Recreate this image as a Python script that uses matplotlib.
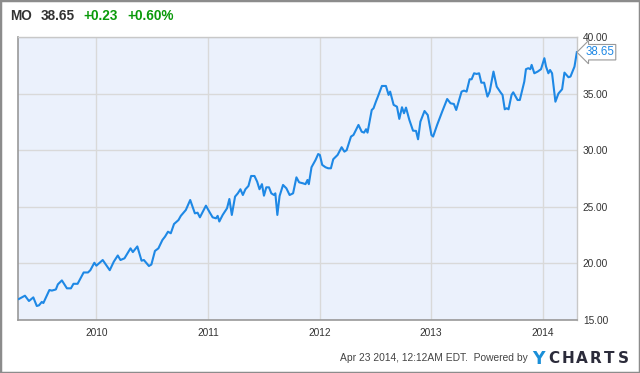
"""
MO weekly close, Apr 2009 - Apr 2014 (YCharts style)
"""

import matplotlib
matplotlib.use("Agg")
from matplotlib import pyplot as plt
from matplotlib.patches import Rectangle

# decimal year of each point and the closing price
years = [
    2009.306, 2009.360, 2009.396, 2009.435, 2009.466, 2009.486, 2009.511, 2009.525,
    2009.579, 2009.601, 2009.637, 2009.655, 2009.691, 2009.736, 2009.772, 2009.795,
    2009.832, 2009.886, 2009.925, 2009.946, 2009.982, 2010.000, 2010.057, 2010.120,
    2010.156, 2010.192, 2010.216, 2010.252, 2010.306, 2010.327, 2010.367, 2010.405,
    2010.426, 2010.471, 2010.493, 2010.525, 2010.556, 2010.592, 2010.615, 2010.642,
    2010.667, 2010.696, 2010.736, 2010.757, 2010.802, 2010.841, 2010.883, 2010.907,
    2010.928, 2010.982, 2011.012, 2011.042, 2011.072, 2011.087, 2011.102, 2011.132,
    2011.171, 2011.192, 2011.214, 2011.243, 2011.268, 2011.291, 2011.313, 2011.336,
    2011.363, 2011.387, 2011.417, 2011.441, 2011.462, 2011.484, 2011.502, 2011.523,
    2011.547, 2011.568, 2011.592, 2011.604, 2011.622, 2011.642, 2011.673, 2011.703,
    2011.732, 2011.763, 2011.793, 2011.817, 2011.853, 2011.874, 2011.892, 2011.904,
    2011.928, 2011.964, 2011.988, 2012.003, 2012.024, 2012.054, 2012.078, 2012.102,
    2012.123, 2012.162, 2012.198, 2012.223, 2012.243, 2012.282, 2012.304, 2012.349,
    2012.378, 2012.399, 2012.417, 2012.430, 2012.468, 2012.484, 2012.505, 2012.523,
    2012.559, 2012.595, 2012.619, 2012.633, 2012.664, 2012.694, 2012.715, 2012.739,
    2012.757, 2012.775, 2012.805, 2012.838, 2012.865, 2012.883, 2012.904, 2012.941,
    2012.970, 2013.003, 2013.018, 2013.054, 2013.099, 2013.144, 2013.174, 2013.204,
    2013.225, 2013.273, 2013.295, 2013.318, 2013.345, 2013.363, 2013.385, 2013.408,
    2013.430, 2013.450, 2013.475, 2013.505, 2013.525, 2013.559, 2013.588, 2013.624,
    2013.640, 2013.660, 2013.678, 2013.694, 2013.721, 2013.736, 2013.775, 2013.795,
    2013.835, 2013.850, 2013.871, 2013.889, 2013.901, 2013.925, 2013.955, 2013.985,
    2014.015, 2014.030, 2014.051, 2014.066, 2014.084, 2014.114, 2014.141, 2014.174,
    2014.195, 2014.231, 2014.249, 2014.285, 2014.306,
]
prices = [
    16.86, 17.15, 16.68, 17.00, 16.24, 16.30, 16.60, 16.50,
    17.65, 17.60, 17.70, 18.15, 18.50, 17.80, 17.80, 18.20,
    18.20, 19.20, 19.20, 19.40, 20.06, 19.80, 20.30, 19.40,
    20.15, 20.70, 20.30, 20.45, 21.33, 21.00, 21.50, 20.24,
    20.30, 19.77, 19.90, 21.10, 21.33, 22.07, 22.36, 22.80,
    22.66, 23.48, 23.83, 24.20, 24.72, 25.60, 24.42, 24.48,
    24.07, 25.10, 24.57, 24.07, 23.98, 24.20, 23.70, 24.28,
    24.87, 25.69, 24.28, 25.90, 26.19, 26.55, 26.04, 26.55,
    26.84, 27.72, 27.72, 27.22, 26.55, 27.00, 25.98, 26.72,
    26.72, 26.19, 26.04, 26.19, 24.28, 25.95, 26.93, 26.63,
    26.04, 26.19, 27.60, 27.16, 27.07, 27.00, 27.37, 27.00,
    28.49, 29.13, 29.66, 29.58, 28.70, 28.49, 28.40, 28.40,
    29.20, 29.58, 30.26, 29.87, 30.00, 31.20, 31.34, 32.23,
    31.63, 31.55, 31.85, 31.55, 33.55, 33.70, 34.28, 34.73,
    35.67, 35.67, 34.88, 35.17, 34.00, 33.84, 32.76, 33.79,
    33.26, 33.76, 32.67, 31.72, 31.70, 30.96, 32.52, 33.46,
    33.10, 31.34, 31.20, 32.23, 33.40, 34.52, 34.14, 34.08,
    33.55, 35.17, 35.26, 35.17, 36.26, 36.26, 36.79, 36.73,
    36.79, 35.96, 35.96, 34.73, 35.17, 36.94, 35.61, 35.08,
    34.88, 33.61, 33.70, 33.61, 34.88, 35.11, 34.43, 34.43,
    36.05, 37.15, 37.24, 37.15, 37.53, 36.79, 36.94, 37.15,
    38.12, 37.38, 36.79, 37.08, 36.79, 34.28, 35.00, 35.38,
    36.85, 36.44, 36.50, 37.38, 38.65,
]

x_ticks = [2010, 2011, 2012, 2013, 2014]
y_ticks = [15, 20, 25, 30, 35, 40]

ticker = "MO"
last_price = "38.65"
change = "+0.23"
change_pct = "+0.60%"
stamp = "Apr 23 2014, 12:12AM EDT.  Powered by"

line_color = "#1e88e5"
grid_color = "#d9d9d9"

plt.rcParams['font.family'] = ['Liberation Sans', 'DejaVu Sans']


def main():
    fig = plt.figure(figsize=(6.4, 3.73), dpi=100)
    ax = fig.add_axes([0.028, 0.142, 0.874, 0.759])
    ax.set_facecolor("#ebf1fc")

    ax.plot(years, prices, color=line_color, linewidth=1.5, zorder=3)

    ax.set_xlim(2009.297, 2014.31)
    ax.set_ylim(15, 40)
    ax.set_xticks(x_ticks)
    ax.set_xticklabels([str(y) for y in x_ticks])
    ax.set_yticks(y_ticks)
    ax.set_yticklabels([f"{v:.2f}" for v in y_ticks])
    ax.yaxis.tick_right()
    ax.tick_params(axis="both", length=0, labelsize=7.3, labelcolor="#333333")
    ax.tick_params(axis="x", pad=6)
    ax.tick_params(axis="y", pad=4)
    ax.grid(True, color=grid_color, linewidth=1, zorder=0)
    ax.set_axisbelow(True)

    for side in ["left", "bottom"]:
        ax.spines[side].set_color("#999999")
        ax.spines[side].set_linewidth(1.2)
    for side in ["top", "right"]:
        ax.spines[side].set_color("#c8c8c8")
        ax.spines[side].set_linewidth(1)

    # last value tag
    ax.annotate(last_price, xy=(years[-1], prices[-1]), xytext=(6, 0),
                textcoords="offset points", va="center", ha="left",
                fontsize=8.3, color=line_color, annotation_clip=False,
                bbox=dict(boxstyle="larrow,pad=0.15", fc="white",
                          ec="#999999", lw=0.8))

    # header
    hy = 1 - 16/373
    fig.text(10/640, hy, ticker, fontsize=9.8, fontweight="bold",
             color="#333333", va="center")
    fig.text(41/640, hy, last_price, fontsize=9.8, fontweight="bold",
             color="#333333", va="center")
    fig.text(83/640, hy, change, fontsize=9.8, fontweight="bold",
             color="#0a9a0a", va="center")
    fig.text(127/640, hy, change_pct, fontsize=9.8, fontweight="bold",
             color="#0a9a0a", va="center")

    # footer
    fig.text(528/640, 1 - 358/373, stamp, fontsize=7.4, color="#444444",
             ha="right", va="center")
    fig.text(532/640, 1 - 358.5/373, "Y", fontsize=12.5, fontweight="bold",
             family="DejaVu Sans", color="#1a8fd8", va="center")
    for i, letter in enumerate("CHARTS"):
        fig.text((548 + i * 14)/640, 1 - 358.5/373, letter, fontsize=11,
                 fontweight="bold", family="DejaVu Sans", color="#2b2b3a",
                 va="center")

    fig.patches.append(Rectangle((0, 0), 1, 1, transform=fig.transFigure,
                                 fill=False, ec="#8c8c8c", lw=2.5))

    fig.savefig("out.png", dpi=100)


if __name__ == "__main__":
    main()
